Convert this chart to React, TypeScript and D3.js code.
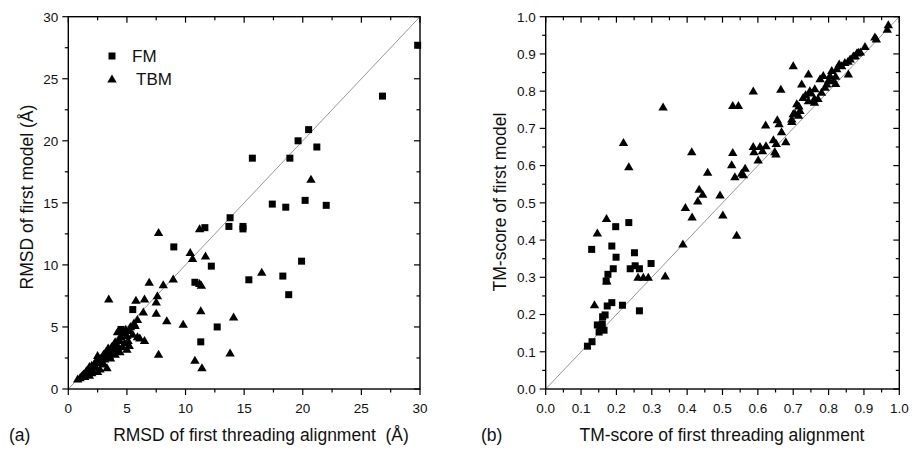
import React from "react";
import * as d3 from "d3";

// ---------- data (a) RMSD ----------
const fmRmsdX = [29.8, 26.8, 20.5, 19.6, 21.2, 15.7, 18.9, 17.4, 18.55, 20.2, 22.0, 13.7, 13.8, 14.9, 14.9, 11.65, 9.0, 12.2, 10.8, 15.4, 18.3, 19.9, 18.8, 5.5, 12.7, 11.3, 4.5];
const fmRmsdY = [27.7, 23.6, 20.9, 20.0, 19.5, 18.6, 18.6, 14.9, 14.65, 15.2, 14.8, 13.1, 13.8, 13.1, 12.9, 13.0, 11.45, 9.9, 8.6, 8.8, 9.1, 10.3, 7.6, 6.4, 5.0, 3.8, 4.8];

const tbmRmsdX = [20.7, 7.7, 11.2, 10.4, 10.6, 11.7, 8.95, 8.1, 6.9, 11.2, 11.35, 16.5, 3.45, 5.77, 6.5, 7.6, 7.5, 6.4, 7.5, 11.3, 14.1, 8.4, 9.8, 6.5, 7.7, 10.8, 11.4, 13.8,
  0.8, 1.0, 1.1, 1.2, 1.3, 1.4, 1.5, 1.6, 1.7, 1.8, 1.8, 1.9, 2.0, 2.0, 2.1, 2.2, 2.3, 2.4, 2.5, 2.5, 2.6, 2.6, 2.7, 2.8, 2.9, 3.0, 3.0, 3.1, 3.2, 3.2, 3.3, 3.4, 3.5, 3.6, 3.6, 3.7, 3.8, 3.9, 4.0, 4.0, 4.1, 4.2, 4.3, 4.4, 4.4, 4.5, 4.6, 4.7, 4.8, 4.9, 5.0, 5.0, 5.1, 5.2, 5.3, 5.5, 5.6, 5.7, 5.9, 5.9, 6.1, 5.2, 4.2];
const tbmRmsdY = [16.9, 12.6, 12.9, 11.0, 10.5, 10.7, 8.85, 8.4, 8.6, 8.5, 8.35, 9.4, 7.25, 7.15, 7.25, 7.5, 7.0, 6.2, 6.1, 6.3, 5.8, 5.5, 5.2, 3.9, 2.8, 2.3, 1.7, 2.9,
  0.8, 0.9, 1.0, 1.1, 1.2, 1.0, 1.4, 1.5, 1.3, 1.8, 1.1, 1.6, 1.9, 1.3, 1.5, 2.0, 1.8, 2.3, 2.7, 1.4, 2.1, 2.4, 1.6, 2.5, 2.2, 2.8, 2.0, 2.4, 3.0, 2.6, 1.7, 3.3, 2.7, 3.1, 2.5, 3.4, 2.9, 3.6, 3.8, 2.8, 3.2, 3.5, 4.0, 3.0, 3.9, 4.2, 3.4, 4.5, 3.7, 4.8, 4.3, 3.2, 3.9, 4.7, 5.0, 4.4, 5.3, 5.1, 5.6, 4.2, 4.1, 3.5, 4.6];

// ---------- data (b) TM-score ----------
const fmTmX = [0.130, 0.187, 0.198, 0.235, 0.199, 0.251, 0.191, 0.176, 0.239, 0.253, 0.265, 0.298, 0.171, 0.187, 0.174, 0.217, 0.265, 0.168, 0.161, 0.146, 0.154, 0.165, 0.151, 0.131, 0.118, 0.160];
const fmTmY = [0.375, 0.384, 0.436, 0.447, 0.354, 0.366, 0.323, 0.308, 0.323, 0.331, 0.323, 0.337, 0.290, 0.232, 0.223, 0.225, 0.210, 0.199, 0.194, 0.172, 0.168, 0.158, 0.153, 0.127, 0.115, 0.175];

const tbmTmX = [0.969, 0.966, 0.931, 0.935, 0.903, 0.884, 0.875, 0.861, 0.846, 0.837, 0.856, 0.823, 0.809, 0.804, 0.785, 0.776, 0.813, 0.795, 0.743, 0.700, 0.724, 0.747, 0.761, 0.780, 0.728, 0.743, 0.760, 0.710, 0.719, 0.700, 0.696, 0.587, 0.665, 0.332, 0.529, 0.545, 0.220, 0.235, 0.413, 0.458, 0.434, 0.444, 0.430, 0.493, 0.501, 0.395, 0.414, 0.388, 0.540, 0.338, 0.172, 0.146, 0.138, 0.173, 0.261, 0.276, 0.290, 0.529, 0.526, 0.535, 0.554, 0.564, 0.559, 0.622, 0.648, 0.587, 0.606, 0.589, 0.601, 0.613, 0.623, 0.644, 0.652, 0.651, 0.655, 0.660, 0.667, 0.679, 0.696, 0.705, 0.716, 0.735, 0.750, 0.770, 0.790, 0.800, 0.820, 0.830, 0.855, 0.870, 0.880, 0.890, 0.820, 0.760, 0.715];
const tbmTmY = [0.978, 0.966, 0.945, 0.940, 0.920, 0.904, 0.895, 0.886, 0.877, 0.868, 0.846, 0.860, 0.855, 0.842, 0.842, 0.833, 0.828, 0.819, 0.846, 0.868, 0.819, 0.801, 0.806, 0.797, 0.783, 0.774, 0.780, 0.766, 0.748, 0.739, 0.725, 0.800, 0.805, 0.757, 0.761, 0.761, 0.662, 0.597, 0.637, 0.582, 0.536, 0.523, 0.505, 0.521, 0.467, 0.487, 0.462, 0.389, 0.413, 0.303, 0.458, 0.419, 0.226, 0.290, 0.300, 0.300, 0.300, 0.635, 0.602, 0.570, 0.579, 0.593, 0.575, 0.709, 0.637, 0.651, 0.651, 0.637, 0.615, 0.640, 0.653, 0.669, 0.659, 0.631, 0.723, 0.712, 0.691, 0.664, 0.718, 0.740, 0.760, 0.790, 0.795, 0.780, 0.810, 0.830, 0.840, 0.873, 0.880, 0.894, 0.902, 0.905, 0.820, 0.770, 0.735];

const rmsdTicks = [0, 5, 10, 15, 20, 25, 30];
const rmsdMinor = [2.5, 7.5, 12.5, 17.5, 22.5, 27.5];
const tmTicks = [0, 0.1, 0.2, 0.3, 0.4, 0.5, 0.6, 0.7, 0.8, 0.9, 1.0];
const tmMinor = [0.05, 0.15, 0.25, 0.35, 0.45, 0.55, 0.65, 0.75, 0.85, 0.95];

const FONT = "'Liberation Sans', Arial, sans-serif";
const LABEL = 17.5;

type PanelProps = {
  x0: number; x1: number; y0: number; y1: number;
  domain: [number, number];
  ticks: number[]; minor: number[]; fmt: (v: number) => string;
  fmX: number[]; fmY: number[]; tbmX: number[]; tbmY: number[];
  xLabel: string; yLabel: string; yLabelX: number; yLabelY: number; xLabelX: number;
  tag: string; tagX: number; legend?: boolean;
};

function tri(x: number, y: number) {
  return `M${x},${y - 4.6}L${x + 4.7},${y + 3.4}L${x - 4.7},${y + 3.4}Z`;
}

function Panel(p: PanelProps) {
  const xs = d3.scaleLinear().domain(p.domain).range([p.x0, p.x1]);
  const ys = d3.scaleLinear().domain(p.domain).range([p.y0, p.y1]);
  const L = 6, m = 3.5;
  return (
    <g>
      <line x1={xs(p.domain[0])} y1={ys(p.domain[0])} x2={xs(p.domain[1])} y2={ys(p.domain[1])} stroke="#8a8a8a" strokeWidth={0.9} />
      {p.tbmX.map((v, i) => (
        <path key={"t" + i} d={tri(xs(v), ys(p.tbmY[i]))} fill="#000" />
      ))}
      {p.fmX.map((v, i) => (
        <rect key={"s" + i} x={xs(v) - 3.5} y={ys(p.fmY[i]) - 3.5} width={7} height={7} fill="#000" />
      ))}
      <rect x={p.x0} y={p.y1} width={p.x1 - p.x0} height={p.y0 - p.y1} fill="none" stroke="#000" strokeWidth={1.4} />
      {p.ticks.map((t) => (
        <g key={"M" + t}>
          <line x1={xs(t)} x2={xs(t)} y1={p.y0} y2={p.y0 + L} stroke="#000" strokeWidth={1.2} />
          <line x1={xs(t)} x2={xs(t)} y1={p.y1} y2={p.y1 + L} stroke="#000" strokeWidth={1.2} />
          <line x1={p.x0 - L} x2={p.x0} y1={ys(t)} y2={ys(t)} stroke="#000" strokeWidth={1.2} />
          <line x1={p.x1 - L} x2={p.x1} y1={ys(t)} y2={ys(t)} stroke="#000" strokeWidth={1.2} />
          <text x={xs(t)} y={p.y0 + 24} textAnchor="middle" fontSize={13.5} fontFamily={FONT} fill="#111">{p.fmt(t)}</text>
          <text x={p.x0 - 10} y={ys(t) + 4.8} textAnchor="end" fontSize={13.5} fontFamily={FONT} fill="#111">{p.fmt(t)}</text>
        </g>
      ))}
      {p.minor.map((t) => (
        <g key={"m" + t}>
          <line x1={xs(t)} x2={xs(t)} y1={p.y0} y2={p.y0 + m} stroke="#000" strokeWidth={1.2} />
          <line x1={xs(t)} x2={xs(t)} y1={p.y1} y2={p.y1 + m} stroke="#000" strokeWidth={1.2} />
          <line x1={p.x0 - m} x2={p.x0} y1={ys(t)} y2={ys(t)} stroke="#000" strokeWidth={1.2} />
          <line x1={p.x1 - m} x2={p.x1} y1={ys(t)} y2={ys(t)} stroke="#000" strokeWidth={1.2} />
        </g>
      ))}
      <text x={p.xLabelX} y={441} textAnchor="middle" fontSize={LABEL} fontFamily={FONT} fill="#111" style={{ whiteSpace: "pre" }}>{p.xLabel}</text>
      <text transform={`translate(${p.yLabelX},${p.yLabelY}) rotate(-90)`} textAnchor="middle" fontSize={LABEL} fontFamily={FONT} fill="#111">{p.yLabel}</text>
      <text x={p.tagX} y={441} fontSize={LABEL} fontFamily={FONT} fill="#111">{p.tag}</text>
      {p.legend && (
        <g>
          <rect x={112 - 3.5} y={56 - 3.5} width={7} height={7} fill="#000" />
          <text x={132} y={62} fontSize={17} fontFamily={FONT} fill="#111">FM</text>
          <path d={tri(112, 79)} fill="#000" />
          <text x={136} y={85} fontSize={17} fontFamily={FONT} fill="#111">TBM</text>
        </g>
      )}
    </g>
  );
}

export default function App() {
  return (
    <svg width={913} height={451} style={{ position: "absolute", left: 0, top: 0, background: "#fff" }}>
      <rect width={913} height={451} fill="#fff" />
      <Panel x0={68.3} x1={420} y0={389} y1={16.7} domain={[0, 30]} ticks={rmsdTicks} minor={rmsdMinor} fmt={(v) => String(v)}
        fmX={fmRmsdX} fmY={fmRmsdY} tbmX={tbmRmsdX} tbmY={tbmRmsdY}
        xLabel={"RMSD of first threading alignment  (\u00C5)"} yLabel={"RMSD of first model (\u00C5)"}
        yLabelX={33} yLabelY={197} xLabelX={261} tag="(a)" tagX={9} legend />
      <Panel x0={545.7} x1={899.3} y0={389} y1={16.7} domain={[0, 1]} ticks={tmTicks} minor={tmMinor} fmt={(v) => v.toFixed(1)}
        fmX={fmTmX} fmY={fmTmY} tbmX={tbmTmX} tbmY={tbmTmY}
        xLabel={"TM-score of first threading alignment"} yLabel={"TM-score of first model"}
        yLabelX={506} yLabelY={202} xLabelX={722} tag="(b)" tagX={481} />
    </svg>
  );
}
